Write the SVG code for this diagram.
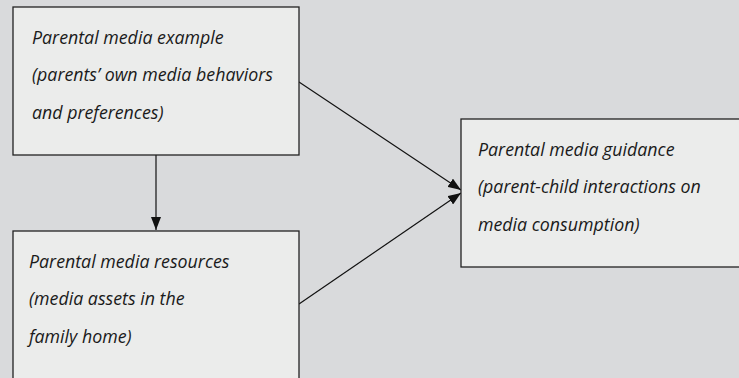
<svg xmlns="http://www.w3.org/2000/svg" width="739" height="378" viewBox="0 0 739 378">
<defs>
<marker id="ah" viewBox="0 0 13 10" refX="13" refY="5" markerWidth="13" markerHeight="10" markerUnits="userSpaceOnUse" orient="auto">
<path d="M0,0 L13,5 L0,10 z" fill="#111"/>
</marker>
<style>
.box{fill:#ebeceb;stroke:#222;stroke-width:1.3}
.t{font-family:"Open Sans","DejaVu Sans",sans-serif;font-style:italic;font-size:17.8px;fill:#1a1a1a}
.c{stroke:#111;stroke-width:1.2;fill:none}
</style>
</defs>
<rect x="0" y="0" width="739" height="378" fill="#d9dadc"/>
<g id="connectors">
<line class="c" x1="156" y1="155" x2="156" y2="230" marker-end="url(#ah)"/>
<line class="c" x1="299" y1="82" x2="461" y2="190" marker-end="url(#ah)"/>
<line class="c" x1="299" y1="304" x2="461" y2="193" marker-end="url(#ah)"/>
</g>
<g id="node-example">
<rect class="box" x="13" y="7" width="286" height="148"/>
<text class="t" x="32" y="44">Parental media example</text>
<text class="t" x="32" y="81">(parents’ own media behaviors</text>
<text class="t" x="32" y="119">and preferences)</text>
</g>
<g id="node-resources">
<rect class="box" x="13" y="231" width="286" height="160"/>
<text class="t" x="29" y="268">Parental media resources</text>
<text class="t" x="29" y="305">(media assets in the</text>
<text class="t" x="29" y="343">family home)</text>
</g>
<g id="node-guidance">
<rect class="box" x="461" y="119" width="290" height="148"/>
<text class="t" x="478" y="156">Parental media guidance</text>
<text class="t" x="478" y="193">(parent-child interactions on</text>
<text class="t" x="478" y="231">media consumption)</text>
</g>
</svg>
